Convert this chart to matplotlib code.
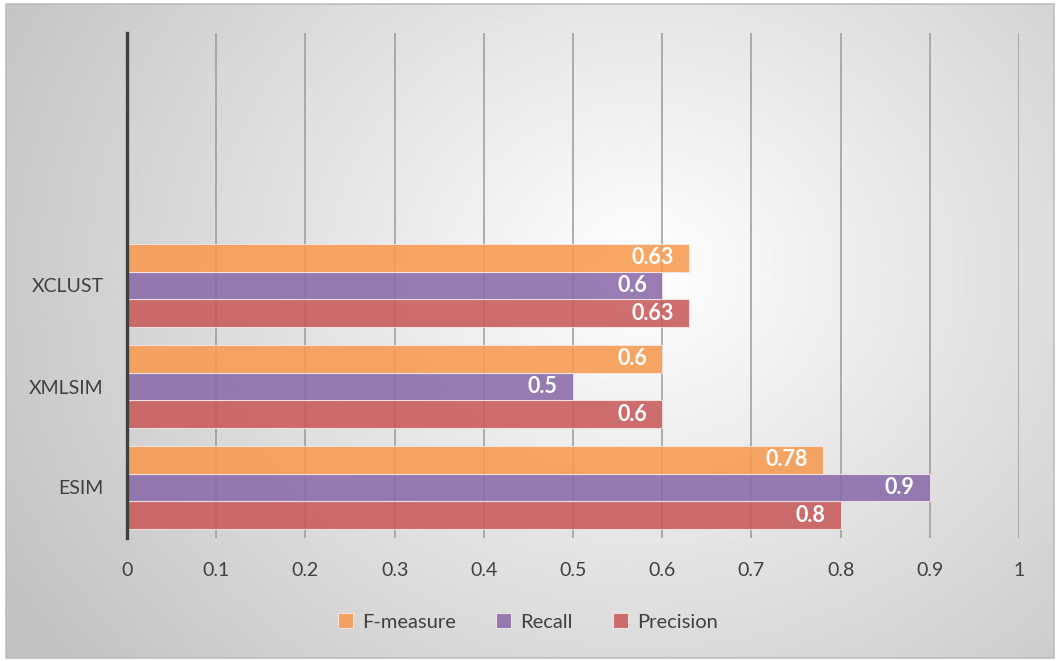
import matplotlib.pyplot as plt
import numpy as np
from matplotlib.patches import Rectangle

categories = ['ESIM', 'XMLSIM', 'XCLUST', '', '']
precision = [0.8, 0.6, 0.63]
recall = [0.9, 0.5, 0.6]
f_measure = [0.78, 0.6, 0.63]
x_ticks = [0, 0.1, 0.2, 0.3, 0.4, 0.5, 0.6, 0.7, 0.8, 0.9, 1]
x_tick_labels = ['0', '0.1', '0.2', '0.3', '0.4', '0.5', '0.6', '0.7', '0.8', '0.9', '1']

plt.rcParams['font.family'] = ['Lato', 'DejaVu Sans']

fig = plt.figure(figsize=(10.56, 6.61), dpi=100)

# radial gray background inside a thin frame
bg = fig.add_axes([0, 0, 1, 1])
bg.set_xlim(0, 1056)
bg.set_ylim(661, 0)
bg.axis('off')
yy, xx = np.mgrid[0:661, 0:1056]
r = np.sqrt(((xx - 640) / 1.15) ** 2 + (yy - 270) ** 2)
shade = np.clip(255 - r * 0.095, 195, 255) / 255
bg.imshow(shade, cmap='gray', vmin=0, vmax=1, extent=(6, 1054, 658, 4), aspect='auto')
bg.add_patch(Rectangle((6, 4), 1048, 654, fill=False, edgecolor='#bdbdbd', linewidth=1.2))

ax = fig.add_axes([127 / 1056, 1 - 538 / 661, (1019 - 127) / 1056, (538 - 33) / 661])
ax.patch.set_alpha(0)

y = np.arange(len(precision))
h = 0.273
series = [
    (precision, -h, '#c85a5a', 'Precision'),
    (recall, 0, '#8a6aaa', 'Recall'),
    (f_measure, h, '#f79a50', 'F-measure'),
]
handles = {}
for vals, off, color, name in series:
    bars = ax.barh(y + off, vals, height=h, color=color, alpha=0.88,
                   edgecolor='#f4e6e6', linewidth=0.8, zorder=3)
    handles[name] = bars
    for b, v in zip(bars, vals):
        ax.text(v - 0.017, b.get_y() + h / 2, f'{v:g}', ha='right', va='center',
                color='white', fontsize=15.5, fontweight='bold', zorder=4)

ax.set_xlim(0, 1)
ax.set_ylim(-0.5, 4.5)
ax.set_yticks(range(len(categories)))
ax.set_yticklabels(categories, fontsize=14, color='#404040')
ax.set_xticks(x_ticks)
ax.set_xticklabels(x_tick_labels, fontsize=14, color='#404040')
ax.tick_params(axis='both', length=0)
ax.tick_params(axis='x', pad=17)
ax.tick_params(axis='y', pad=17)
ax.xaxis.grid(True, color='#9a9a9a', linewidth=1.1, zorder=0)
ax.set_axisbelow(True)
for s in ['top', 'right', 'bottom']:
    ax.spines[s].set_visible(False)
ax.spines['left'].set_color('#404040')
ax.spines['left'].set_linewidth(2.4)
ax.spines['left'].set_zorder(5)

fig.legend([handles['F-measure'], handles['Recall'], handles['Precision']],
           ['F-measure', 'Recall', 'Precision'],
           loc='center', bbox_to_anchor=(0.5, 1 - 622 / 661), ncol=3, frameon=False,
           fontsize=14.5, handlelength=0.75, handleheight=0.75, columnspacing=2.0,
           handletextpad=0.45, labelcolor='#404040')

fig.savefig('out.png', dpi=100)
